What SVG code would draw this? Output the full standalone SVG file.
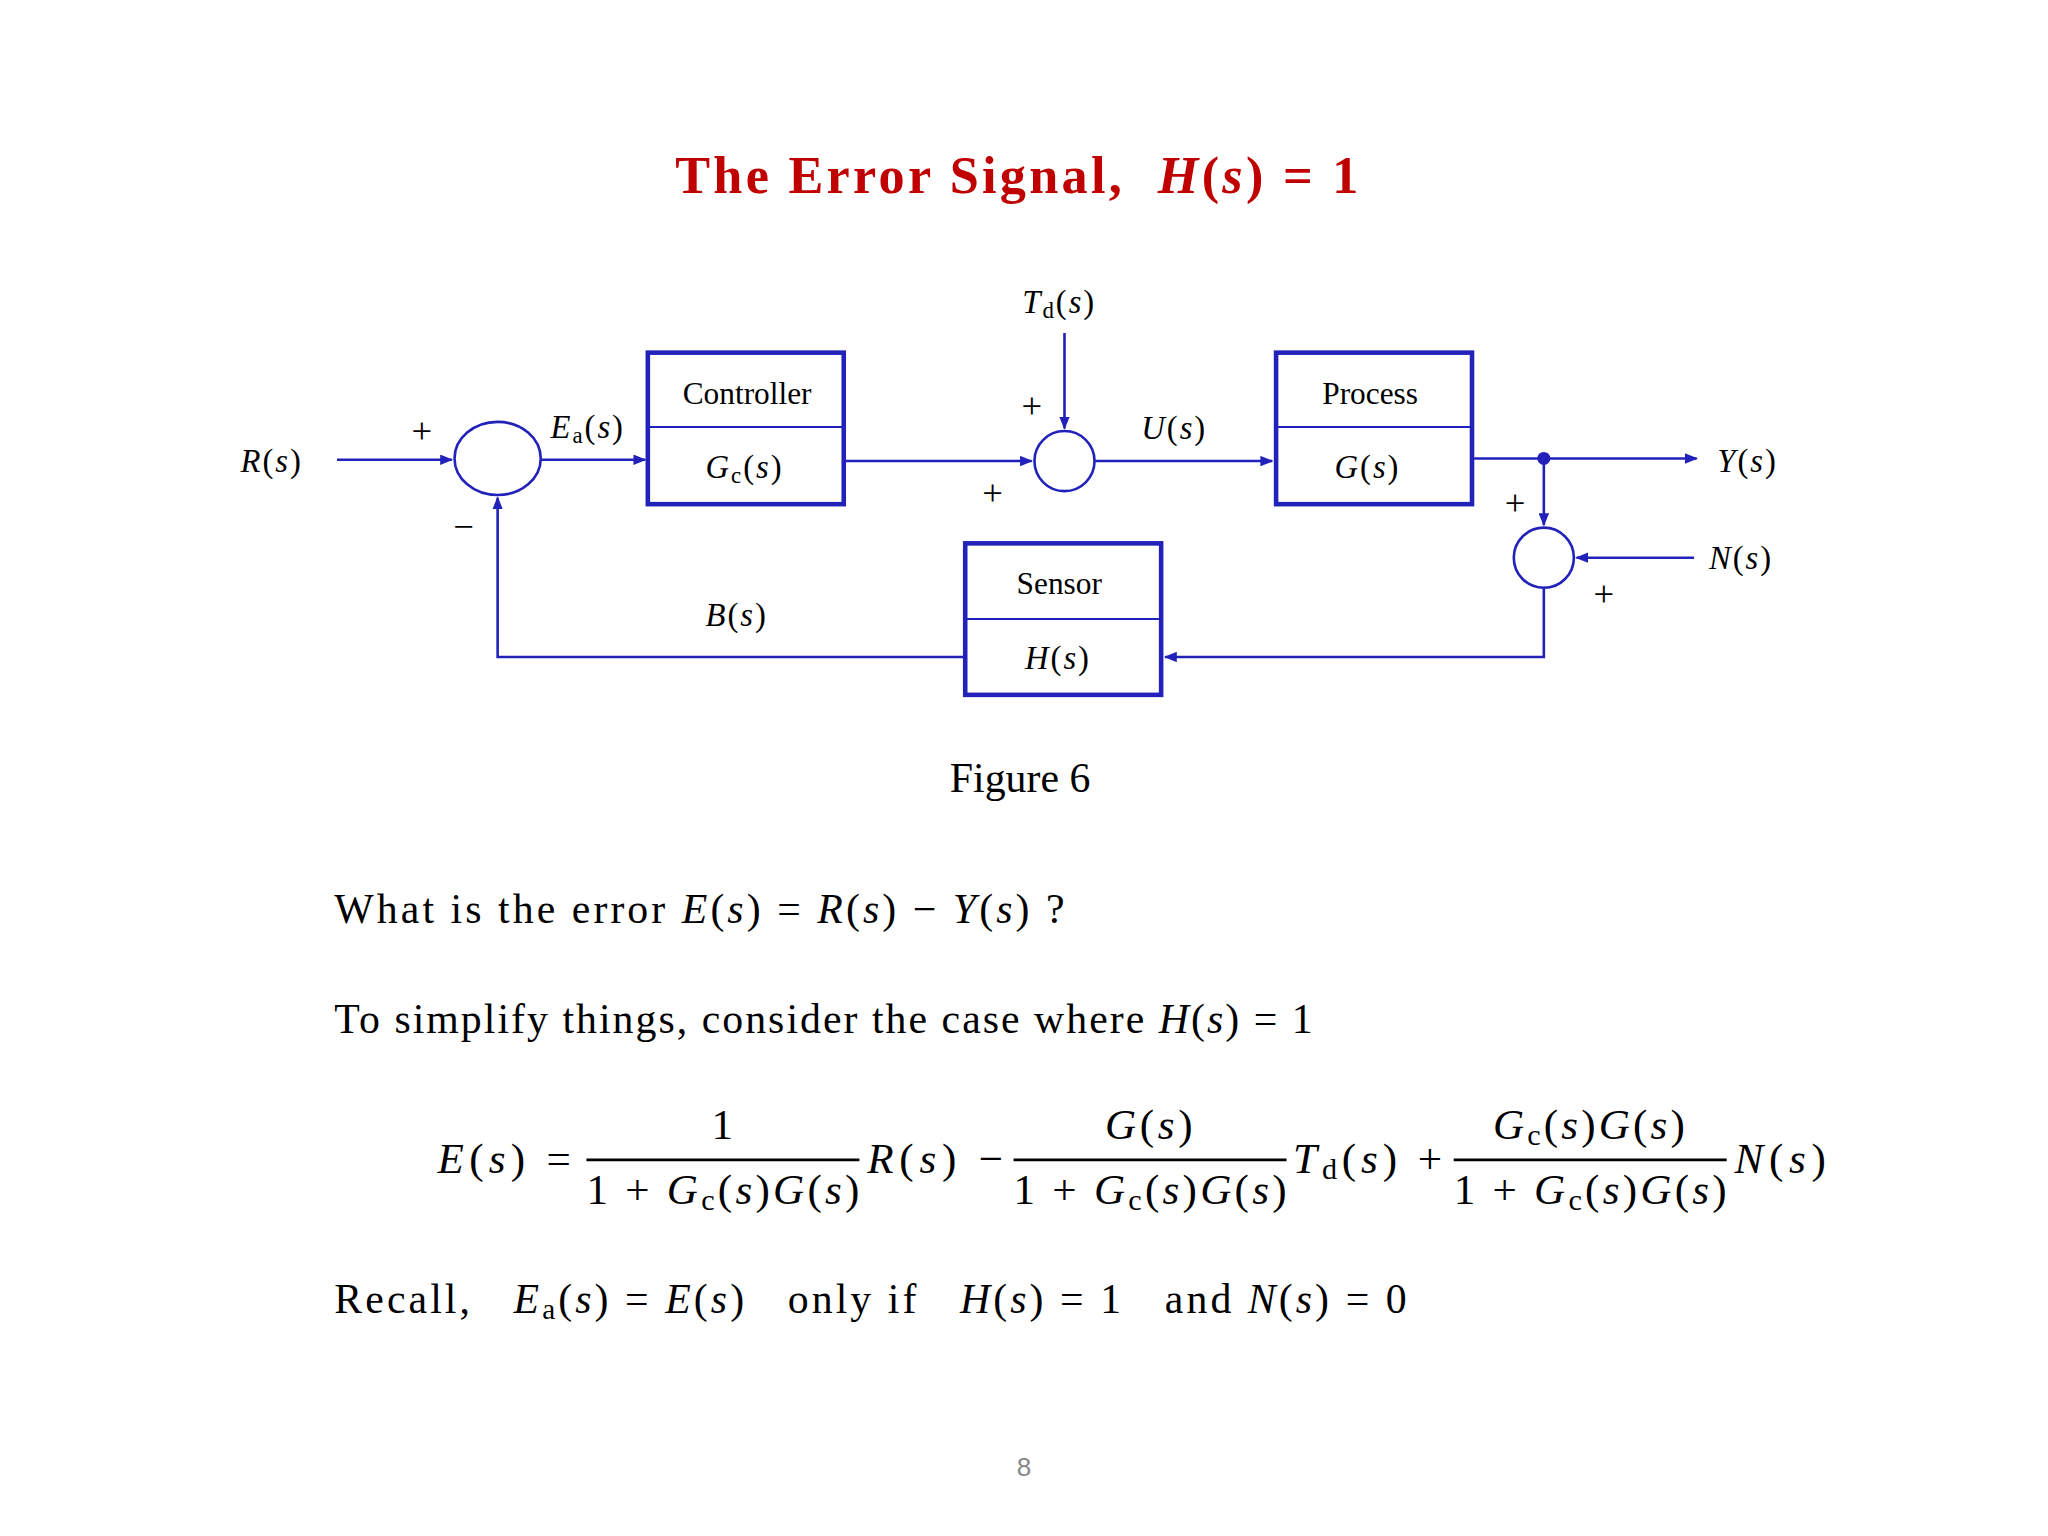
<svg xmlns="http://www.w3.org/2000/svg" width="2048" height="1536" viewBox="0 0 2048 1536">
<style>
text{font-family:"Liberation Serif","DejaVu Serif",serif;fill:#000}
.t{font-size:24px;text-anchor:middle}
.m{font-size:25px;text-anchor:middle;font-style:italic;letter-spacing:1.5px}
.b{font-size:32px}
.q{font-size:33px}
.i{font-style:italic}
.s{font-size:0.7em;font-style:normal;baseline-shift:-0.2em}
.box{fill:#fff;stroke:#2222bb;stroke-width:3.5}
.div{stroke:#2222bb;stroke-width:1.5}
.w{fill:none;stroke:#2222bb;stroke-width:2}
.sum{fill:#fff;stroke:#2222bb;stroke-width:2}
.fb{stroke:#000;stroke-width:2}
</style>
<defs><marker id="a" markerWidth="10" markerHeight="8" refX="9" refY="4" orient="auto" markerUnits="userSpaceOnUse"><path d="M0,0L10,4L0,8z" fill="#2222bb"/></marker></defs>
<rect width="2048" height="1536" fill="#fff"/>
<g transform="scale(1.30612)">
<text x="517" y="148" style="font-size:40px;font-weight:bold;fill:#c00000" textLength="523" lengthAdjust="spacing" xml:space="preserve"><tspan style="fill:#c00000">The Error Signal,  </tspan><tspan class="i" style="fill:#c00000">H</tspan><tspan style="fill:#c00000">(</tspan><tspan class="i" style="fill:#c00000">s</tspan><tspan style="fill:#c00000">) = 1</tspan></text>
<g id="connectors">
<path class="w" d="M258,352H346" marker-end="url(#a)"/>
<path class="w" d="M414,352H494" marker-end="url(#a)"/>
<path class="w" d="M646,353H790" marker-end="url(#a)"/>
<path class="w" d="M815,255V328" marker-end="url(#a)"/>
<path class="w" d="M838,353H974" marker-end="url(#a)"/>
<path class="w" d="M1127,351H1299" marker-end="url(#a)"/>
<path class="w" d="M1182,351V402" marker-end="url(#a)"/>
<path class="w" d="M1297,427H1207" marker-end="url(#a)"/>
<path class="w" d="M1182,450V503H892" marker-end="url(#a)"/>
<path class="w" d="M739,503H381V381" marker-end="url(#a)"/>
<circle cx="1182" cy="351" r="5" fill="#2222bb"/>
</g>
<g id="sum1"><ellipse class="sum" cx="381" cy="351" rx="33" ry="28"/></g>
<g id="sum2"><circle class="sum" cx="815" cy="353" r="23"/></g>
<g id="sum3"><circle class="sum" cx="1182" cy="427" r="23"/></g>
<g id="controller"><rect class="box" x="496" y="270" width="150" height="116"/><line class="div" x1="496" y1="327" x2="646" y2="327"/><text class="t" x="572" y="309">Controller</text><text class="m" x="570" y="366">G<tspan class="s">c</tspan><tspan style="font-style:normal">(</tspan>s<tspan style="font-style:normal">)</tspan></text></g>
<g id="process"><rect class="box" x="977" y="270" width="150" height="116"/><line class="div" x1="977" y1="327" x2="1127" y2="327"/><text class="t" x="1049" y="309">Process</text><text class="m" x="1047" y="366">G<tspan style="font-style:normal">(</tspan>s<tspan style="font-style:normal">)</tspan></text></g>
<g id="sensor"><rect class="box" x="739" y="416" width="150" height="116"/><line class="div" x1="739" y1="474" x2="889" y2="474"/><text class="t" x="811" y="455">Sensor</text><text class="m" x="810" y="512">H<tspan style="font-style:normal">(</tspan>s<tspan style="font-style:normal">)</tspan></text></g>
<g id="labels">
<text class="m" x="208" y="361">R<tspan style="font-style:normal">(</tspan>s<tspan style="font-style:normal">)</tspan></text>
<text class="m" x="450" y="335">E<tspan class="s">a</tspan><tspan style="font-style:normal">(</tspan>s<tspan style="font-style:normal">)</tspan></text>
<text class="m" x="811" y="240">T<tspan class="s">d</tspan><tspan style="font-style:normal">(</tspan>s<tspan style="font-style:normal">)</tspan></text>
<text class="m" x="899" y="336">U<tspan style="font-style:normal">(</tspan>s<tspan style="font-style:normal">)</tspan></text>
<text class="m" x="1338" y="361">Y<tspan style="font-style:normal">(</tspan>s<tspan style="font-style:normal">)</tspan></text>
<text class="m" x="1333" y="436">N<tspan style="font-style:normal">(</tspan>s<tspan style="font-style:normal">)</tspan></text>
<text class="m" x="564" y="479">B<tspan style="font-style:normal">(</tspan>s<tspan style="font-style:normal">)</tspan></text>
<text class="t" x="323" y="339" style="font-size:28px">+</text>
<text class="t" x="355" y="413" style="font-size:28px">−</text>
<text class="t" x="790" y="320" style="font-size:28px">+</text>
<text class="t" x="760" y="387" style="font-size:28px">+</text>
<text class="t" x="1160" y="394" style="font-size:28px">+</text>
<text class="t" x="1228" y="464" style="font-size:28px">+</text>
</g>
<text x="781" y="606" text-anchor="middle" class="b">Figure 6</text>
<text x="256" y="707" class="b" textLength="559" lengthAdjust="spacing">What is the error <tspan class="i">E</tspan>(<tspan class="i">s</tspan>) = <tspan class="i">R</tspan>(<tspan class="i">s</tspan>) − <tspan class="i">Y</tspan>(<tspan class="i">s</tspan>) ?</text>
<text x="256" y="791" class="b" textLength="749" lengthAdjust="spacing">To simplify things, consider the case where <tspan class="i">H</tspan>(<tspan class="i">s</tspan>) = 1</text>
<g class="q">
<text x="335" y="898" class="q" textLength="102" lengthAdjust="spacing"><tspan class="i">E</tspan>(<tspan class="i">s</tspan>) =</text>
<line class="fb" x1="449" y1="888" x2="658" y2="888"/>
<text x="553" y="872" class="q" text-anchor="middle">1</text>
<text x="449" y="922" class="q" textLength="209" lengthAdjust="spacing">1 + <tspan class="i">G</tspan><tspan class="s">c</tspan>(<tspan class="i">s</tspan>)<tspan class="i">G</tspan>(<tspan class="i">s</tspan>)</text>
<text x="664" y="898" class="q" textLength="104" lengthAdjust="spacing"><tspan class="i">R</tspan>(<tspan class="i">s</tspan>) −</text>
<line class="fb" x1="776" y1="888" x2="985" y2="888"/>
<text x="846" y="872" class="q" textLength="67" lengthAdjust="spacing"><tspan class="i">G</tspan>(<tspan class="i">s</tspan>)</text>
<text x="776" y="922" class="q" textLength="209" lengthAdjust="spacing">1 + <tspan class="i">G</tspan><tspan class="s">c</tspan>(<tspan class="i">s</tspan>)<tspan class="i">G</tspan>(<tspan class="i">s</tspan>)</text>
<text x="990" y="898" class="q" textLength="114" lengthAdjust="spacing"><tspan class="i">T</tspan><tspan class="s">d</tspan>(<tspan class="i">s</tspan>) +</text>
<line class="fb" x1="1113" y1="888" x2="1322" y2="888"/>
<text x="1143" y="872" class="q" textLength="147" lengthAdjust="spacing"><tspan class="i">G</tspan><tspan class="s">c</tspan>(<tspan class="i">s</tspan>)<tspan class="i">G</tspan>(<tspan class="i">s</tspan>)</text>
<text x="1113" y="922" class="q" textLength="209" lengthAdjust="spacing">1 + <tspan class="i">G</tspan><tspan class="s">c</tspan>(<tspan class="i">s</tspan>)<tspan class="i">G</tspan>(<tspan class="i">s</tspan>)</text>
<text x="1328" y="898" class="q" textLength="70" lengthAdjust="spacing"><tspan class="i">N</tspan>(<tspan class="i">s</tspan>)</text>
</g>
<text x="256" y="1005" class="b" xml:space="preserve" textLength="821" lengthAdjust="spacing">Recall,   <tspan class="i">E</tspan><tspan class="s">a</tspan>(<tspan class="i">s</tspan>) = <tspan class="i">E</tspan>(<tspan class="i">s</tspan>)   only if   <tspan class="i">H</tspan>(<tspan class="i">s</tspan>) = 1   and <tspan class="i">N</tspan>(<tspan class="i">s</tspan>) = 0</text>
<text x="784" y="1130" text-anchor="middle" style="font-family:'Liberation Sans',sans-serif;font-size:20px;fill:#888">8</text>
</g>
</svg>
